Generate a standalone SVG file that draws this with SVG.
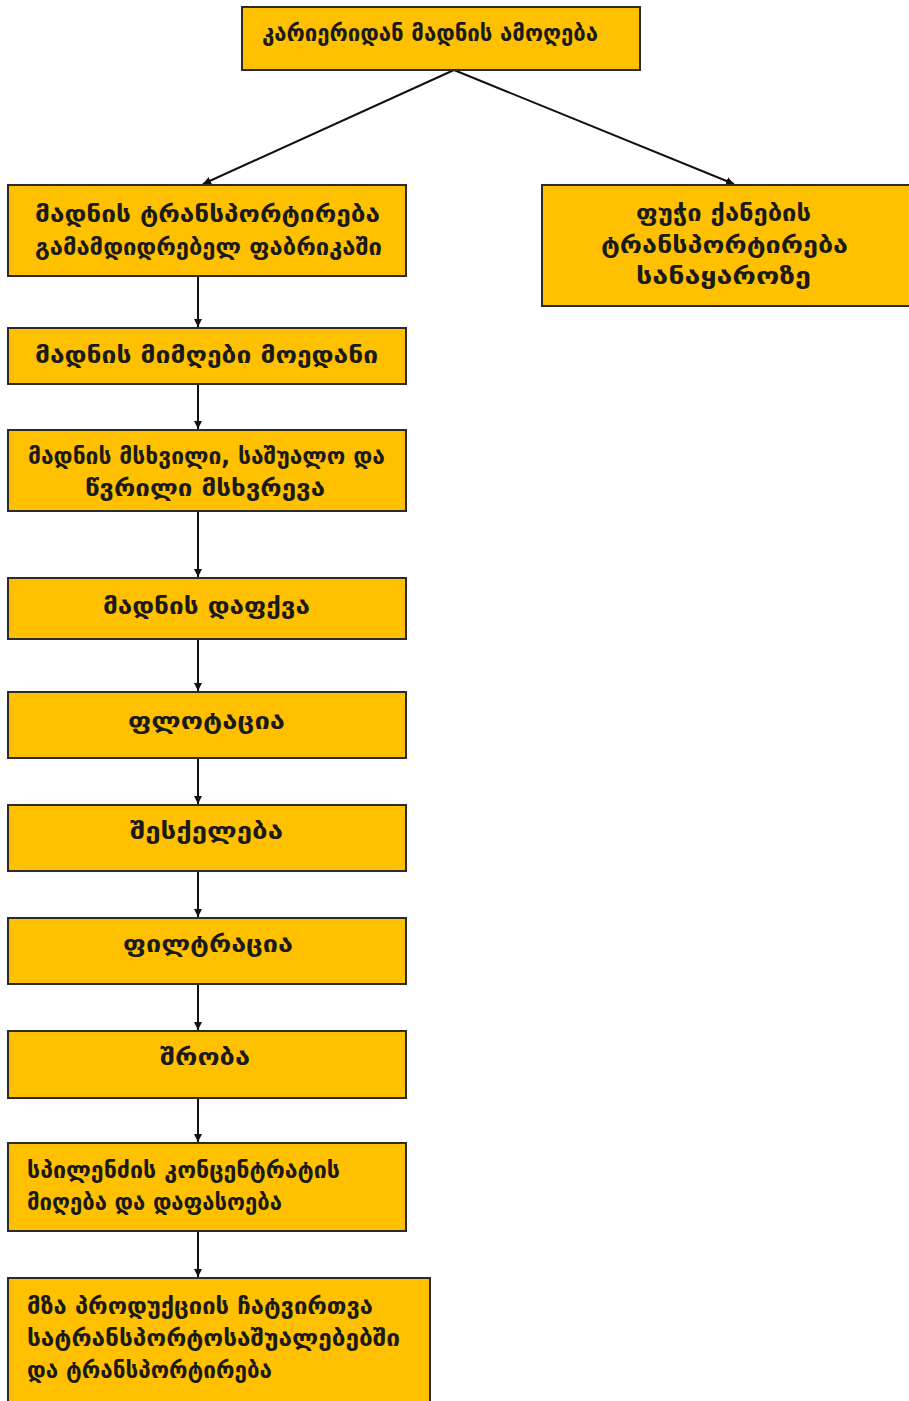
<svg xmlns="http://www.w3.org/2000/svg" width="909" height="1401" viewBox="0 0 909 1401">
<defs>
<marker id="ah" viewBox="0 0 10 10" refX="10" refY="5" markerWidth="8" markerHeight="8" markerUnits="userSpaceOnUse" orient="auto">
<path d="M0,0 L10,5 L0,10 z" fill="#111"/>
</marker>
<style>
.box{fill:#FFC000;stroke:#2b2b2b;stroke-width:2}
.t{font-family:"DejaVu Sans",sans-serif;font-weight:bold;font-size:24px;fill:#1a1a1a}
.con{stroke:#111;stroke-width:2;fill:none;marker-end:url(#ah)}
</style>
</defs>
<rect width="909" height="1401" fill="#fff"/>
<g id="connectors">
<line class="con" x1="454" y1="70" x2="203" y2="184"/>
<line class="con" x1="454" y1="70" x2="734" y2="184"/>
<line class="con" x1="198" y1="277" x2="198" y2="327"/>
<line class="con" x1="198" y1="385" x2="198" y2="429"/>
<line class="con" x1="198" y1="512" x2="198" y2="577"/>
<line class="con" x1="198" y1="640" x2="198" y2="691"/>
<line class="con" x1="198" y1="759" x2="198" y2="804"/>
<line class="con" x1="198" y1="872" x2="198" y2="917"/>
<line class="con" x1="198" y1="985" x2="198" y2="1030"/>
<line class="con" x1="198" y1="1099" x2="198" y2="1142"/>
<line class="con" x1="198" y1="1232" x2="198" y2="1277"/>
</g>
<g id="n1"><rect class="box" x="242" y="7" width="398" height="63"/><text class="t" x="262" y="41" textLength="336" lengthAdjust="spacingAndGlyphs">კარიერიდან მადნის ამოღება</text></g>
<g id="n2"><rect class="box" x="8" y="185" width="398" height="91"/><text class="t" x="35" y="222" textLength="345" lengthAdjust="spacingAndGlyphs">მადნის  ტრანსპორტირება</text><text class="t" x="35" y="255" textLength="347" lengthAdjust="spacingAndGlyphs">გამამდიდრებელ ფაბრიკაში</text></g>
<g id="n3"><rect class="box" x="542" y="185" width="368" height="121"/><text class="t" x="636" y="221" textLength="175" lengthAdjust="spacingAndGlyphs">ფუჭი ქანების</text><text class="t" x="601" y="253" textLength="247" lengthAdjust="spacingAndGlyphs">ტრანსპორტირება</text><text class="t" x="636" y="284" textLength="175" lengthAdjust="spacingAndGlyphs">სანაყაროზე</text></g>
<g id="n4"><rect class="box" x="8" y="328" width="398" height="56"/><text class="t" x="35" y="363" textLength="343" lengthAdjust="spacingAndGlyphs">მადნის მიმღები მოედანი</text></g>
<g id="n5"><rect class="box" x="8" y="430" width="398" height="81"/><text class="t" x="28" y="464" textLength="357" lengthAdjust="spacingAndGlyphs">მადნის მსხვილი, საშუალო და</text><text class="t" x="85" y="496" textLength="240" lengthAdjust="spacingAndGlyphs">წვრილი მსხვრევა</text></g>
<g id="n6"><rect class="box" x="8" y="578" width="398" height="61"/><text class="t" x="103" y="614" textLength="207" lengthAdjust="spacingAndGlyphs">მადნის დაფქვა</text></g>
<g id="n7"><rect class="box" x="8" y="692" width="398" height="66"/><text class="t" x="128" y="729" textLength="157" lengthAdjust="spacingAndGlyphs">ფლოტაცია</text></g>
<g id="n8"><rect class="box" x="8" y="805" width="398" height="66"/><text class="t" x="130" y="839" textLength="153" lengthAdjust="spacingAndGlyphs">შესქელება</text></g>
<g id="n9"><rect class="box" x="8" y="918" width="398" height="66"/><text class="t" x="123" y="952" textLength="170" lengthAdjust="spacingAndGlyphs">ფილტრაცია</text></g>
<g id="n10"><rect class="box" x="8" y="1031" width="398" height="67"/><text class="t" x="160" y="1065" textLength="90" lengthAdjust="spacingAndGlyphs">შრობა</text></g>
<g id="n11"><rect class="box" x="8" y="1143" width="398" height="88"/><text class="t" x="27" y="1178" textLength="313" lengthAdjust="spacingAndGlyphs">სპილენძის კონცენტრატის</text><text class="t" x="27" y="1210" textLength="255" lengthAdjust="spacingAndGlyphs">მიღება და დაფასოება</text></g>
<g id="n12"><rect class="box" x="8" y="1278" width="422" height="130"/><text class="t" x="27" y="1314" textLength="346" lengthAdjust="spacingAndGlyphs">მზა პროდუქციის ჩატვირთვა</text><text class="t" x="27" y="1346" textLength="373" lengthAdjust="spacingAndGlyphs">სატრანსპორტოსაშუალებებში</text><text class="t" x="27" y="1378" textLength="245" lengthAdjust="spacingAndGlyphs">და ტრანსპორტირება</text></g>
</svg>
